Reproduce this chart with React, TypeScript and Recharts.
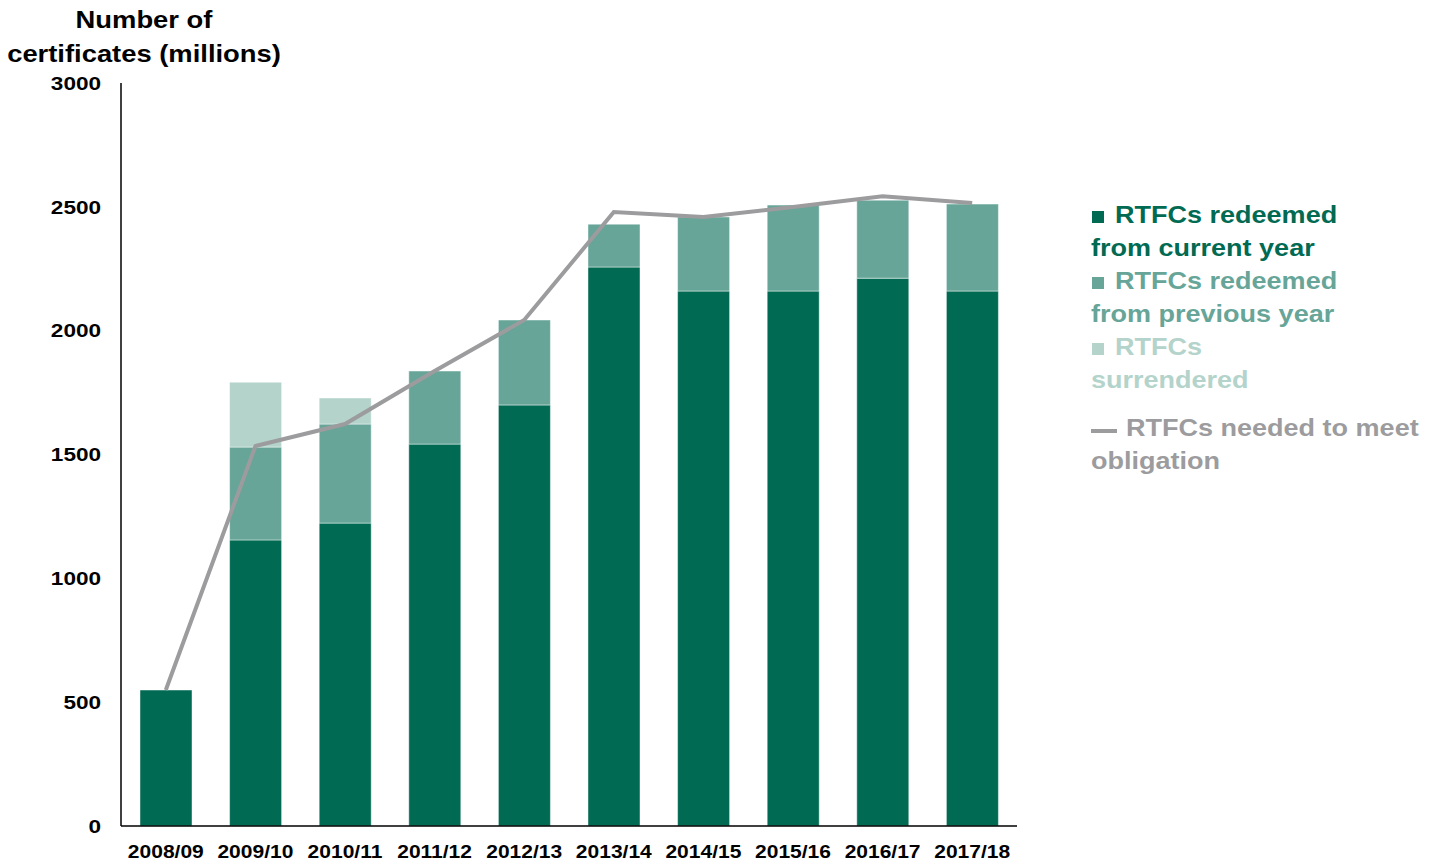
import React from 'react';
import { ComposedChart, Bar, Line, XAxis, YAxis } from 'recharts';

const categories = ['2008/09', '2009/10', '2010/11', '2011/12', '2012/13', '2013/14', '2014/15', '2015/16', '2016/17', '2017/18'];
const redeemedCurrent = [549, 1155, 1223, 1542, 1700, 2257, 2160, 2160, 2212, 2160];
const redeemedPrevious = [0, 375, 400, 295, 343, 173, 299, 347, 315, 351];
const surrendered = [0, 262, 105, 0, 0, 0, 0, 0, 0, 0];
const needed = [549, 1534, 1623, 1837, 2043, 2479, 2459, 2499, 2543, 2515];
const yTicks = [0, 500, 1000, 1500, 2000, 2500, 3000];
const titleLines = ['Number of', 'certificates (millions)'];

const DARK = '#016A52';
const MID = '#66A598';
const LIGHT = '#B3D3CB';
const GREY = '#9C9C9E';
const FONT = "'Liberation Sans', Arial, Helvetica, sans-serif";

const data = categories.map((c, i) => ({
  name: c,
  current: redeemedCurrent[i],
  previous: redeemedPrevious[i],
  surrendered: surrendered[i],
  needed: needed[i],
}));

const legendItems = [
  { lines: ['RTFCs redeemed', 'from current year'], color: DARK, kind: 'square' },
  { lines: ['RTFCs redeemed', 'from previous year'], color: MID, kind: 'square' },
  { lines: ['RTFCs', 'surrendered'], color: LIGHT, kind: 'square' },
  { lines: ['RTFCs needed to meet', 'obligation'], color: GREY, kind: 'line' },
];

const YTick = (props: any) => {
  const { x, y, payload } = props;
  return (
    <text
      transform={`translate(${x},${y}) scale(1.2,1)`}
      textAnchor="end"
      dy="0.36em"
      fontFamily={FONT}
      fontWeight={700}
      fontSize={18.8}
      fill="#000"
    >
      {payload.value}
    </text>
  );
};

const XTick = (props: any) => {
  const { x, y, payload } = props;
  return (
    <text
      transform={`translate(${x},${y}) scale(1.13,1)`}
      textAnchor="middle"
      dy={24}
      fontFamily={FONT}
      fontWeight={700}
      fontSize={18.6}
      fill="#000"
    >
      {payload.value}
    </text>
  );
};

const Overlay = () => {
  const x0 = 1091;
  const LS = 1.14;
  let y = 223;
  const els: React.ReactNode[] = [];
  legendItems.forEach((item, idx) => {
    item.lines.forEach((ln, li) => {
      const first = li === 0;
      if (first) {
        if (item.kind === 'square') {
          els.push(<rect key={`m${idx}`} x={x0 + 1} y={y - 12} width={12} height={12} fill={item.color} />);
        } else {
          els.push(<rect key={`m${idx}`} x={x0} y={y - 7} width={26} height={4} fill={item.color} />);
        }
      }
      const tx = first ? (item.kind === 'square' ? x0 + 24 : x0 + 35) : x0;
      els.push(
        <text
          key={`t${idx}-${li}`}
          transform={`translate(${tx},${y}) scale(${LS},1)`}
          fontFamily={FONT}
          fontWeight={700}
          fontSize={23.7}
          fill={item.color}
        >
          {ln}
        </text>
      );
      y += 33;
    });
    if (idx === 2) y += 15;
  });
  return (
    <svg width={1439} height={861} style={{ position: 'absolute', left: 0, top: 0, pointerEvents: 'none' }}>
      {titleLines.map((t, i) => (
        <text
          key={t}
          transform={`translate(144,${28 + i * 34}) scale(1.18,1)`}
          textAnchor="middle"
          fontFamily={FONT}
          fontWeight={700}
          fontSize={23.2}
          fill="#000"
        >
          {t}
        </text>
      ))}
      {els}
    </svg>
  );
};

export default function App() {
  return (
    <div style={{ position: 'absolute', left: 0, top: 0, width: 1439, height: 861, background: '#fff' }}>
      <ComposedChart
        width={1030}
        height={861}
        data={data}
        margin={{ top: 83, right: 13, bottom: 0, left: 0 }}
        barCategoryGap={0}
      >
        <XAxis
          dataKey="name"
          height={35}
          tickLine={false}
          axisLine={{ stroke: '#000', strokeWidth: 1.5 }}
          tick={<XTick />}
          interval={0}
        />
        <YAxis
          width={121}
          domain={[0, 3000]}
          ticks={yTicks}
          tickLine={false}
          axisLine={{ stroke: '#000', strokeWidth: 1.5 }}
          tick={<YTick />}
          tickMargin={14}
          interval={0}
        />
        <Bar dataKey="current" stackId="a" barSize={52} fill={DARK} stroke="rgba(255,255,255,0.45)" strokeWidth={1} isAnimationActive={false} />
        <Bar dataKey="previous" stackId="a" barSize={52} fill={MID} stroke="rgba(255,255,255,0.45)" strokeWidth={1} isAnimationActive={false} />
        <Bar dataKey="surrendered" stackId="a" barSize={52} fill={LIGHT} stroke="rgba(255,255,255,0.45)" strokeWidth={1} isAnimationActive={false} />
        <Line
          dataKey="needed"
          type="linear"
          stroke={GREY}
          strokeWidth={4}
          dot={false}
          activeDot={false}
          isAnimationActive={false}
        />
      </ComposedChart>
      <Overlay />
    </div>
  );
}
